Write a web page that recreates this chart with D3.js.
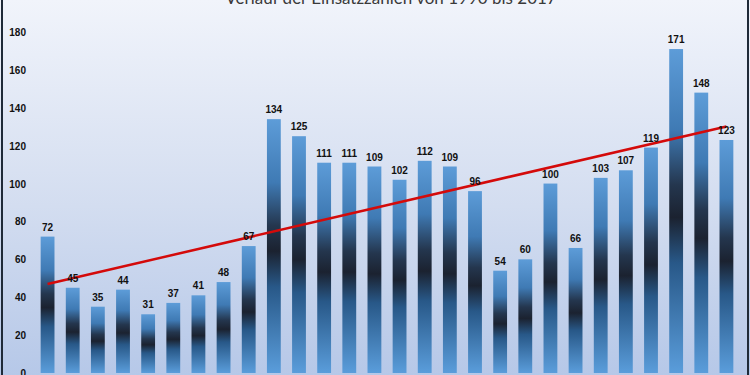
<!DOCTYPE html>
<html>
<head>
<meta charset="utf-8">
<script src="https://cdn.jsdelivr.net/npm/d3@7"></script>
<style>
  body { margin: 0; padding: 0; overflow: hidden; }
  .axis text { font-family: "Liberation Sans", Arial, sans-serif; font-weight: bold; font-size: 10px; fill: #111; }
  .label { font-family: "Liberation Sans", Arial, sans-serif; font-weight: bold; font-size: 10px; fill: #111; }
</style>
</head>
<body>
<script>
var years = d3.range(1990, 2018);
var einsaetze = [72, 45, 35, 44, 31, 37, 41, 48, 67, 134, 125, 111, 111, 109, 102, 112, 109, 96, 54, 60, 100, 66, 103, 107, 119, 171, 148, 123];
var yTicks = [0, 20, 40, 60, 80, 100, 120, 140, 160, 180];
var title = "Verlauf der Einsatzzahlen von 1990 bis 2017";

var width = 750, height = 375;

var svg = d3.select("body").append("svg")
  .attr("width", width)
  .attr("height", height);

var defs = svg.append("defs");

var bg = defs.append("linearGradient").attr("id", "bg")
  .attr("x1", 0).attr("y1", 0).attr("x2", 0).attr("y2", 1);
bg.append("stop").attr("offset", "0%").attr("stop-color", "#f1f4fb");
bg.append("stop").attr("offset", "55%").attr("stop-color", "#d3ddf0");
bg.append("stop").attr("offset", "100%").attr("stop-color", "#b6c8e8");

// bar fill, relative to each bar
var bar = defs.append("linearGradient").attr("id", "bar")
  .attr("x1", 0).attr("y1", 0).attr("x2", 0).attr("y2", 1);
bar.append("stop").attr("offset", "0%").attr("stop-color", "#5d9cd8");
bar.append("stop").attr("offset", "25%").attr("stop-color", "#3f7ab4");
bar.append("stop").attr("offset", "42%").attr("stop-color", "#24364e");
bar.append("stop").attr("offset", "52%").attr("stop-color", "#1b2230");
bar.append("stop").attr("offset", "66%").attr("stop-color", "#285888");
bar.append("stop").attr("offset", "100%").attr("stop-color", "#5a9ddb");

svg.append("rect").attr("width", width).attr("height", height).attr("fill", "url(#bg)");

var x = d3.scaleBand()
  .domain(years)
  .range([35, 739])
  .paddingInner(0.45)
  .paddingOuter(0.225);

var y = d3.scaleLinear()
  .domain([0, 180])
  .range([373, 32]);

// y axis labels only
svg.append("g")
  .attr("class", "axis")
  .attr("transform", "translate(26,0)")
  .call(d3.axisLeft(y).tickValues(yTicks).tickSize(0).tickPadding(0))
  .call(function(g) { g.select(".domain").remove(); })
  .selectAll("text").attr("dy", "0.35em");

svg.append("g")
  .selectAll("rect")
  .data(einsaetze)
  .enter()
  .append("rect")
  .attr("x", function(d, i) { return x(years[i]); })
  .attr("y", function(d) { return y(d); })
  .attr("width", x.bandwidth())
  .attr("height", function(d) { return y(0) - y(d); })
  .attr("fill", "url(#bar)");

// linear trend (least squares)
var n = einsaetze.length,
    mx = (n - 1) / 2,
    my = d3.mean(einsaetze),
    sxy = d3.sum(einsaetze, function(d, i) { return (i - mx) * (d - my); }),
    sxx = d3.sum(einsaetze, function(d, i) { return (i - mx) * (i - mx); }),
    slope = sxy / sxx,
    icpt = my - slope * mx;

var cx = function(i) { return x(years[i]) + x.bandwidth() / 2; };

svg.append("path")
  .attr("d", d3.line()([[cx(0), y(icpt)], [cx(n - 1), y(icpt + slope * (n - 1))]]))
  .attr("stroke", "#d40a0a")
  .attr("stroke-width", 2.5)
  .attr("fill", "none");

svg.append("g")
  .selectAll("text")
  .data(einsaetze)
  .enter()
  .append("text")
  .attr("class", "label")
  .attr("x", function(d, i) { return cx(i); })
  .attr("y", function(d) { return y(d) - 6; })
  .attr("text-anchor", "middle")
  .text(function(d) { return d; });

svg.append("text")
  .attr("x", 391)
  .attr("y", 4)
  .attr("text-anchor", "middle")
  .attr("font-family", "Lato, 'Open Sans', sans-serif")
  .attr("font-size", 17)
  .attr("fill", "#3a3a3a")
  .text(title);

// frame edges
svg.append("rect").attr("x", 1).attr("y", 0).attr("width", 2).attr("height", height).attr("fill", "#1f2a38");
svg.append("rect").attr("x", 747).attr("y", 0).attr("width", 2).attr("height", height).attr("fill", "#1f2a38");
</script>
</body>
</html>
